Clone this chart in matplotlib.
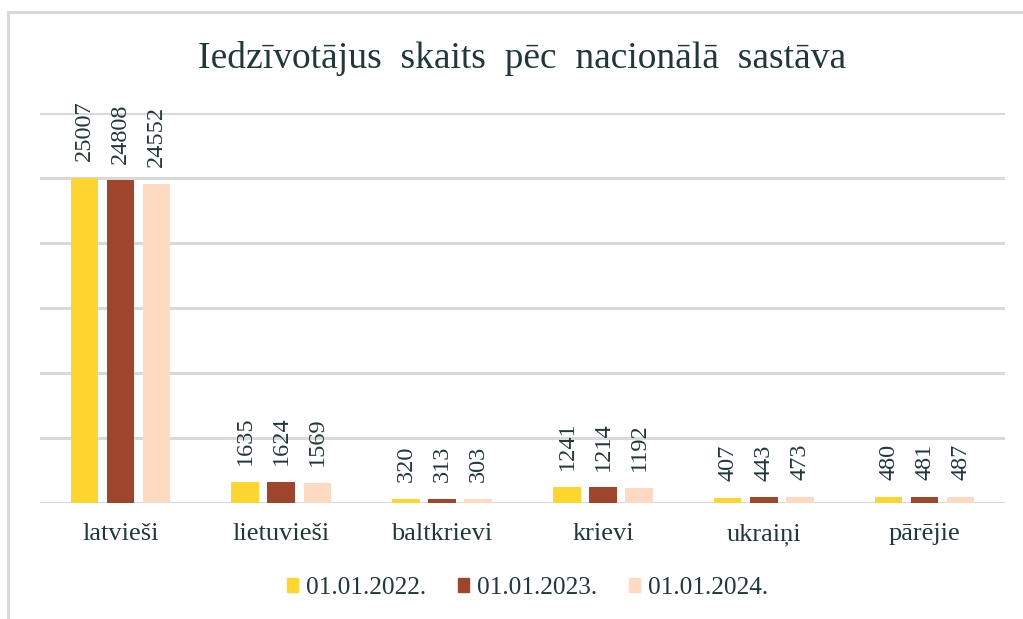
import matplotlib
matplotlib.use("Agg")
import matplotlib.pyplot as plt
import numpy as np
from matplotlib.lines import Line2D
from matplotlib.patches import Rectangle

categories = ["latvieši", "lietuvieši", "baltkrievi", "krievi", "ukraiņi", "pārējie"]
series_names = ["01.01.2022.", "01.01.2023.", "01.01.2024."]
v2022 = [25007, 1635, 320, 1241, 407, 480]
v2023 = [24808, 1624, 313, 1214, 443, 481]
v2024 = [24552, 1569, 303, 1192, 473, 487]
series_values = [v2022, v2023, v2024]
colors = ["#FFD52F", "#9E452B", "#FFDAC3"]
text_color = "#203838"
grid_color = "#D9D9D9"

plt.rcParams["font.family"] = ["Liberation Serif", "DejaVu Serif"]

fig = plt.figure(figsize=(10.23, 6.19), dpi=100)
ax = fig.add_axes([40/1023, 1-503/619, (1005-40)/1023, (503-113)/619])

x = np.arange(len(categories))
bw = 0.171
step = 0.224
for i, (name, vals, c) in enumerate(zip(series_names, series_values, colors)):
    pos = x + (i - 1) * step
    ax.bar(pos, vals, width=bw, color=c, label=name, zorder=3)
    for p, v in zip(pos, vals):
        ax.annotate(str(v), (p, v), xytext=(0, 12), textcoords="offset points",
                    rotation=90, ha="center", va="bottom", fontsize=17.5,
                    color=text_color)

ax.set_xlim(-0.5, len(categories) - 0.5)
ax.set_ylim(0, 30000)
ax.set_yticks(np.arange(0, 30001, 5000))
ax.yaxis.grid(True, color=grid_color, linewidth=2.2, zorder=0)
ax.set_axisbelow(True)
ax.tick_params(axis="y", left=False, labelleft=False)
ax.tick_params(axis="x", bottom=False, pad=11, labelsize=19, labelcolor=text_color)
ax.set_xticks(x)
ax.set_xticklabels(categories)
for s in ax.spines.values():
    s.set_visible(False)

fig.text(0.51, 1-58/619, "Iedzīvotājus  skaits  pēc  nacionālā  sastāva",
         ha="center", va="center", fontsize=27, color=text_color)

handles = [Rectangle((0, 0), 1, 1, color=c) for c in colors]
fig.legend(handles, series_names, loc="center", bbox_to_anchor=(0.5157, 1-588/619),
           ncol=3, frameon=False, fontsize=18.3, labelcolor=text_color,
           handlelength=0.44, handleheight=0.52, handletextpad=0.32, columnspacing=1.24,
           borderpad=0, borderaxespad=0)

fig.add_artist(Line2D([8/1023, 8/1023], [0, 1-12/619], color=grid_color, linewidth=2.2,
                      transform=fig.transFigure))
fig.add_artist(Line2D([8/1023, 1], [1-12/619, 1-12/619], color=grid_color, linewidth=2.2,
                      transform=fig.transFigure))

fig.savefig("out.png", dpi=100)
